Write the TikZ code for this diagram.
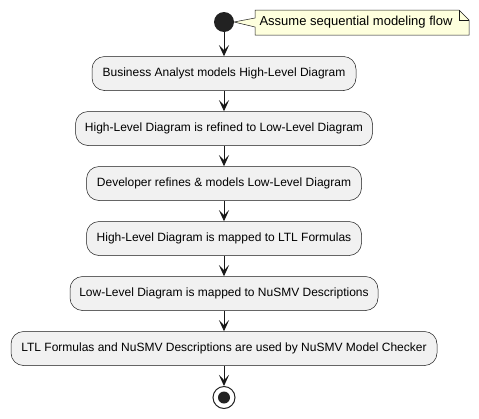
\documentclass[tikz,border=0pt]{standalone}
\usepackage{fontspec}
\setmainfont{Liberation Sans}
\usetikzlibrary{arrows.meta}
\definecolor{boxfill}{HTML}{F1F1F1}
\definecolor{boxline}{HTML}{181818}
\definecolor{notefill}{HTML}{FEFFDD}
\definecolor{dotfill}{HTML}{222222}
\tikzset{
  act/.style={draw=boxline, fill=boxfill, rounded corners=12.5pt, line width=0.5pt,
    minimum height=34pt, inner sep=0pt, font=\fontsize{12}{14}\selectfont},
  flow/.style={draw=boxline, line width=1pt, -{Stealth[length=11pt,width=10pt,inset=5pt]}},
  notebox/.style={draw=boxline, fill=notefill, line width=0.5pt, line join=miter},
}
\begin{document}
\begin{tikzpicture}[x=1pt,y=-1pt]
\useasboundingbox (0,0) rectangle (479,418);
% note
\draw[notebox] (255,10) -- (459,10) -- (469,20) -- (469,35) -- (255,35) -- (255,27) -- (234,22) -- (255,18) -- cycle;
\draw[boxline, line width=0.5pt] (459,10) -- (459,20) -- (469,20);
\node[inner sep=0pt, font=\fontsize{13}{15}\selectfont] (note) at (356,22.5) {Assume sequential modeling flow};
% start
\node[circle, fill=dotfill, minimum size=20pt, inner sep=0pt] (start) at (224,22) {};
% activities
\node[act, minimum width=264pt] (a1) at (224,73.5) {Business Analyst models High-Level Diagram};
\node[act, minimum width=297pt] (a2) at (224,128.5) {High-Level Diagram is refined to Low-Level Diagram};
\node[act, minimum width=275pt] (a3) at (224,183.5) {Developer refines \& models Low-Level Diagram};
\node[act, minimum width=275pt] (a4) at (224,238.5) {High-Level Diagram is mapped to LTL Formulas};
\node[act, minimum width=308pt] (a5) at (224,293.5) {Low-Level Diagram is mapped to NuSMV Descriptions};
\node[act, minimum width=426pt] (a6) at (224,348.5) {LTL Formulas and NuSMV Descriptions are used by NuSMV Model Checker};
% end
\node[circle, draw=dotfill, fill=white, line width=1pt, minimum size=22pt, inner sep=0pt] (stop) at (224,397.5) {};
\node[circle, fill=dotfill, minimum size=12pt, inner sep=0pt] (stopdot) at (stop.center) {};
% flows
\draw[flow] (start) -- (a1);
\draw[flow] (a1) -- (a2);
\draw[flow] (a2) -- (a3);
\draw[flow] (a3) -- (a4);
\draw[flow] (a4) -- (a5);
\draw[flow] (a5) -- (a6);
\draw[flow] (a6) -- (stop);
\end{tikzpicture}
\end{document}
